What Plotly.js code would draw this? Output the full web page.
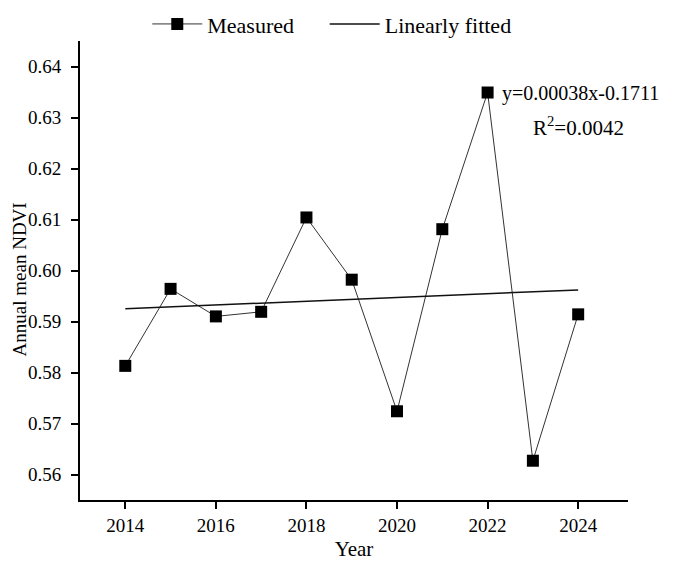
<!DOCTYPE html>
<html>
<head>
<meta charset="utf-8">
<script src="https://cdn.plot.ly/plotly-3.0.1.min.js"></script>
<style>html,body{margin:0;padding:0;background:#fff;}#chart{width:685px;height:561px;}</style>
</head>
<body>
<div id="chart"></div>
<script>
// Data
const years = [2014, 2015, 2016, 2017, 2018, 2019, 2020, 2021, 2022, 2023, 2024];
const ndvi = [0.5813, 0.5964, 0.5910, 0.5919, 0.6104, 0.5982, 0.5724, 0.6081, 0.6349, 0.5627, 0.5914];
const fitYears = [2014, 2024];
const fitValues = [0.5925, 0.5962];
const xTicks = [2014, 2016, 2018, 2020, 2022, 2024];
const yTicks = [0.56, 0.57, 0.58, 0.59, 0.60, 0.61, 0.62, 0.63, 0.64];
const eqText = 'y=0.00038x-0.1711';
const r2Text = 'R<sup>2</sup>=0.0042';
const yTitle = 'Annual mean NDVI';

const FONT = 'Liberation Serif, Times New Roman, serif';

const traces = [
  {
    x: years, y: ndvi, name: 'Measured', type: 'scatter', mode: 'lines+markers',
    legend: 'legend',
    line: {color: '#333333', width: 1},
    marker: {symbol: 'square', size: 12, color: '#000000'}
  },
  {
    x: fitYears, y: fitValues, name: 'Linearly fitted', type: 'scatter', mode: 'lines',
    legend: 'legend2',
    line: {color: '#111111', width: 1.5}
  }
];

const legendBase = {
  orientation: 'h', xref: 'container', yref: 'container',
  xanchor: 'left', y: 0.957, yanchor: 'middle', itemwidth: 50,
  font: {family: FONT, size: 22, color: '#000'}, bgcolor: 'rgba(0,0,0,0)'
};

const layout = {
  width: 685, height: 561,
  margin: {l: 80, r: 57, t: 41, b: 61, autoexpand: false},
  paper_bgcolor: '#ffffff', plot_bgcolor: '#ffffff',
  font: {family: FONT, size: 19, color: '#000'},
  showlegend: true,
  legend: Object.assign({}, legendBase, {x: 0.215}),
  legend2: Object.assign({}, legendBase, {x: 0.474}),
  xaxis: {
    range: [2013, 2025.1], tickvals: xTicks, ticktext: xTicks.map(String),
    showgrid: false, zeroline: false, showline: true, linecolor: '#000', linewidth: 2,
    ticks: 'outside', ticklen: 7, tickwidth: 2, tickcolor: '#000',
    tickfont: {family: FONT, size: 19, color: '#000'},
    title: {text: 'Year', font: {family: FONT, size: 21, color: '#000'}, standoff: 12}
  },
  yaxis: {
    range: [0.555, 0.645], tickvals: yTicks, ticktext: yTicks.map(v => v.toFixed(2)),
    showgrid: false, zeroline: false, showline: true, linecolor: '#000', linewidth: 2,
    ticks: 'outside', ticklen: 7, tickwidth: 2, tickcolor: '#000',
    ticklabelstandoff: 6,
    tickfont: {family: FONT, size: 19, color: '#000'}
  },
  annotations: [
    {x: -0.11, y: 0.48, xref: 'paper', yref: 'paper', text: yTitle, showarrow: false,
     textangle: -90, xanchor: 'center', yanchor: 'middle',
     font: {family: FONT, size: 19, color: '#000'}},
    {x: 2024.06, y: 0.6348, xref: 'x', yref: 'y', text: eqText, showarrow: false,
     xanchor: 'center', yanchor: 'middle', font: {family: FONT, size: 20, color: '#000'}},
    {x: 2024.0, y: 0.6282, xref: 'x', yref: 'y', text: r2Text, showarrow: false,
     xanchor: 'center', yanchor: 'middle', font: {family: FONT, size: 21, color: '#000'}}
  ]
};

Plotly.newPlot('chart', traces, layout, {displayModeBar: false, staticPlot: true});
</script>
</body>
</html>
